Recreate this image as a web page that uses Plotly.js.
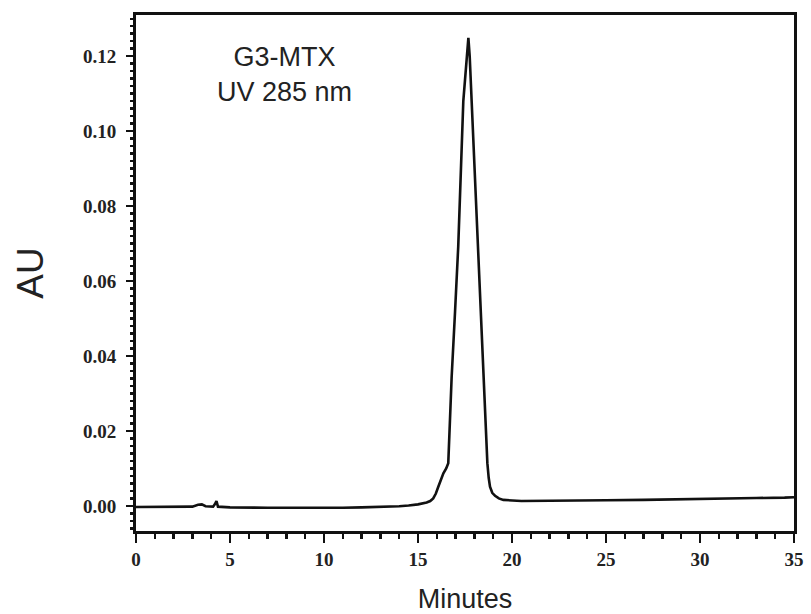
<!DOCTYPE html>
<html>
<head>
<meta charset="utf-8">
<script src="https://cdn.plot.ly/plotly-3.0.1.min.js"></script>
<style>html,body{margin:0;padding:0;background:#fff;}#chart{width:811px;height:614px;}</style>
</head>
<body>
<div id="chart"></div>
<script>
// Retention time (minutes)
const minutes = [0, 1, 2, 3, 3.3, 3.5, 3.7, 4.1, 4.2, 4.28, 4.36, 5, 7, 9, 10, 11, 12, 13, 14, 14.5, 15, 15.46, 15.65, 15.81, 15.95, 16.08, 16.22, 16.35, 16.5, 16.61, 16.70, 16.79, 16.97, 17.14, 17.41, 17.55, 17.68, 17.75, 17.85, 18.03, 18.21, 18.35, 18.5, 18.6, 18.69, 18.76, 18.83, 18.95, 19.1, 19.3, 19.54, 20.5, 21.5, 23, 25, 27, 29, 31, 33, 34.5, 35];
// Absorbance (AU)
const absorbance = [-0.0003, -0.0003, -0.0003, -0.0002, 0.0003, 0.0004, -0.0001, -0.0002, 0.0005, 0.0013, -0.0002, -0.0004, -0.0005, -0.0006, -0.0006, -0.0005, -0.0004, -0.0003, -0.0001, 0.0001, 0.0004, 0.0009, 0.0013, 0.0020, 0.0033, 0.0051, 0.0070, 0.0087, 0.0100, 0.0114, 0.0229, 0.0344, 0.0518, 0.0692, 0.1080, 0.1160, 0.1249, 0.1200, 0.1080, 0.0880, 0.0692, 0.0518, 0.0300, 0.0180, 0.0114, 0.0075, 0.0051, 0.0035, 0.0027, 0.0020, 0.0016, 0.0013, 0.0013, 0.0014, 0.0015, 0.0016, 0.0017, 0.0019, 0.0021, 0.0022, 0.0023];

const annotationLines = ["G3-MTX", "UV 285 nm"];
const xTitle = "Minutes";
const yTitle = "AU";

const tickFont = {family: "Liberation Serif, Times New Roman, serif", size: 19, color: "#222", weight: "bold"};

const trace = {
  x: minutes,
  y: absorbance,
  type: "scatter",
  mode: "lines",
  line: {color: "#111", width: 2.6},
  hoverinfo: "skip"
};
// invisible trace to drive secondary tick axis
const helper = {x: [0], y: [0], xaxis: "x", yaxis: "y2", mode: "markers", marker: {opacity: 0}, hoverinfo: "skip", showlegend: false};

const layout = {
  width: 811,
  height: 614,
  margin: {l: 136, r: 17, t: 15, b: 83},
  paper_bgcolor: "#fff",
  plot_bgcolor: "#fff",
  showlegend: false,
  xaxis: {
    range: [0, 35],
    tickvals: [0, 5, 10, 15, 20, 25, 30, 35],
    ticktext: ["0", "5", "10", "15", "20", "25", "30", "35"],
    ticks: "outside",
    ticklen: 9,
    tickwidth: 2.5,
    tickcolor: "#111",
    showline: true,
    linewidth: 3,
    linecolor: "#111",
    mirror: true,
    showgrid: false,
    zeroline: false,
    tickfont: tickFont,
    minor: {dtick: 1, ticks: "outside", ticklen: 5, tickwidth: 2.5, tickcolor: "#111", showgrid: false},
    title: {text: xTitle, font: {family: "Liberation Sans, Arial, sans-serif", size: 27, color: "#222"}, standoff: 24}
  },
  yaxis: {
    range: [-0.0067, 0.131],
    tickvals: [0, 0.02, 0.04, 0.06, 0.08, 0.10, 0.12],
    ticktext: ["0.00", "0.02", "0.04", "0.06", "0.08", "0.10", "0.12"],
    ticks: "outside",
    ticklen: 7,
    tickwidth: 2.5,
    tickcolor: "#111",
    showline: true,
    linewidth: 3,
    linecolor: "#111",
    mirror: true,
    showgrid: false,
    zeroline: false,
    tickfont: tickFont,
    ticklabelstandoff: 6,
    minor: {dtick: 0.002, tick0: 0, ticks: "outside", ticklen: 3, tickwidth: 2.5, tickcolor: "#111", showgrid: false},
    title: {text: yTitle, font: {family: "Liberation Sans, Arial, sans-serif", size: 37, color: "#222"}, standoff: 29}
  },
  yaxis2: {
    overlaying: "y",
    range: [-0.0067, 0.131],
    tickmode: "linear",
    tick0: 0,
    dtick: 0.01,
    ticks: "outside",
    ticklen: 5,
    tickwidth: 2.5,
    tickcolor: "#111",
    showticklabels: false,
    showline: false,
    showgrid: false,
    zeroline: false
  },
  annotations: [
    {x: 0.225, y: 0.1243, xref: "paper", yref: "y", text: annotationLines.join("<br>"), showarrow: false,
     font: {family: "Liberation Sans, Arial, sans-serif", size: 27, color: "#222"}, align: "center", yanchor: "top", xanchor: "center"}
  ]
};

Plotly.newPlot("chart", [trace, helper], layout, {displayModeBar: false, staticPlot: true});
</script>
</body>
</html>
